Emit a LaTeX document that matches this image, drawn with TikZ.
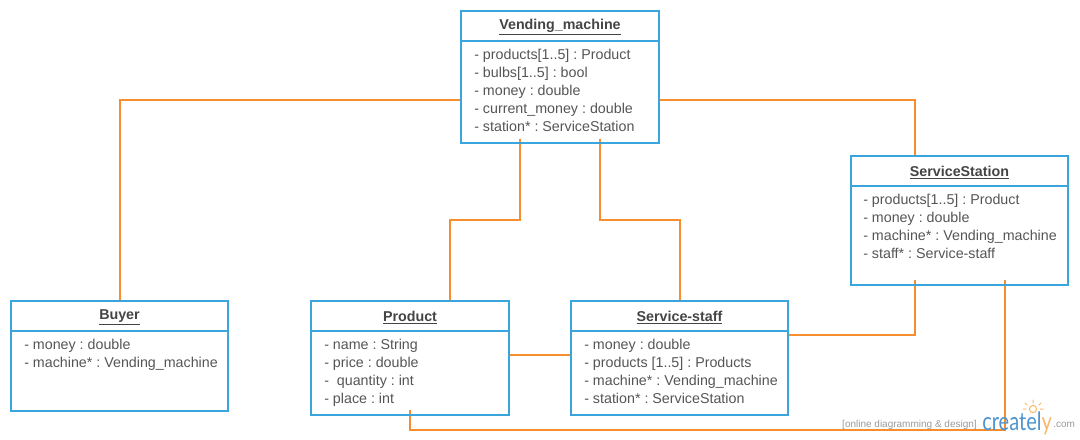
\documentclass[tikz,border=0pt]{standalone}
\usepackage{fontspec}
\setmainfont{Liberation Sans}
\newfontfamily\logofont[FakeStretch=0.79]{Lato}
\usetikzlibrary{calc}
\pgfdeclarelayer{back}
\pgfsetlayers{back,main}
\definecolor{boxblue}{HTML}{39A5DC}
\definecolor{linkorange}{HTML}{F68D2E}
\definecolor{inktitle}{HTML}{444444}
\definecolor{inkbody}{HTML}{555555}
\definecolor{markgray}{HTML}{999999}
\definecolor{logoblue}{HTML}{4F94CD}
\definecolor{logoorange}{HTML}{F9B868}
\tikzset{
  x=0.75pt,y=-0.75pt,
  umlbox/.style={draw=boxblue,line width=1.5pt,inner sep=0pt,outer sep=0pt},
  umlrule/.style={draw=boxblue,line width=1.5pt},
  umltitle/.style={inner sep=0pt,text=inktitle,font=\fontsize{10.7}{13.5}\selectfont\bfseries},
  umlattrs/.style={inner sep=0pt,anchor=north west,align=left,text=inkbody,font=\frenchspacing\fontsize{10.7}{13.5}\selectfont},
  link/.style={draw=linkorange,line width=1.5pt},
  markline/.style={draw=logoorange,line width=0.75pt,line cap=round},
}
\newcommand{\umlclass}[8]{% name, left, top, w, h, title, attrs, attrs left offset
  \node[umlbox,minimum width=#4*0.75pt,minimum height=#5*0.75pt,anchor=north west] (#1) at (#2,#3) {};
  \draw[umlrule] ($(#1.north west)+(0,30)$) -- ($(#1.north east)+(0,30)$);
  \node[umltitle] (#1title) at ($(#1.north)+(0,16.5)$) {\underline{#6}};
  \node[umlattrs] (#1attrs) at ($(#1.north west)+(#8,38)$) {#7};
}
\begin{document}
\begin{tikzpicture}
\useasboundingbox (0,0) rectangle (1080,439);
% classes
\umlclass{vm}{461}{11}{198}{132}{Vending\_machine}{- products[1..5] : Product\\- bulbs[1..5] : bool\\- money : double\\- current\_money : double\\- station* : ServiceStation}{13}
\umlclass{ss}{851}{156}{217}{129}{ServiceStation}{- products[1..5] : Product\\- money : double\\- machine* : Vending\_machine\\- staff* : Service-staff}{12}
\umlclass{buyer}{11}{301}{217}{110}{Buyer}{- money : double\\- machine* : Vending\_machine}{13}
\umlclass{prod}{311}{301}{198}{114}{Product}{- name : String\\- price : double\\-\ \ quantity : int\\- place : int}{13}
\umlclass{staff}{571}{301}{217}{114}{Service-staff}{- money : double\\- products [1..5] : Products\\- machine* : Vending\_machine\\- station* : ServiceStation}{13}
% links, under the box outlines
\begin{pgfonlayer}{back}
\draw[link] ($(vm.west)+(0,23)$) -| (buyer.north);
\draw[link] ($(vm.east)+(0,23)$) -| ($(ss.north)+(-44.5,0)$);
\draw[link] ($(vm.south)+(-40,-4)$) -- ++(0,81) -| ($(prod.north)+(40,0)$);
\draw[link] ($(vm.south)+(40,-4)$) -- ++(0,81) -| (staff.north);
\draw[link] ($(prod.east)+(0,-3)$) -- ($(staff.west)+(0,-3)$);
\draw[link] ($(staff.east)+(0,-23)$) -| ($(ss.south)+(-44.5,-5)$);
\draw[link] ($(ss.south)+(45.5,-5)$) -- ++(0,150) -| ($(prod.south)+(0,-5)$);
\end{pgfonlayer}
% watermark
\node[inner sep=0pt,anchor=base east,text=markgray,font=\fontsize{7.5}{9}\selectfont] (tag) at (977,427) {[online diagramming \& design]};
\node[inner sep=0pt,anchor=base west,font=\logofont\fontsize{19}{24}\selectfont,text=logoblue] (logo) at (982,430) {createl\textcolor{logoorange}{y}};
\node[inner sep=0pt,anchor=base west,text=markgray,font=\fontsize{7.5}{9}\selectfont] (dotcom) at (1053,427) {.com};
\draw[markline] (1033,409) circle (3.6);
\draw[markline] (1033,400)--(1033,403) (1025,403)--(1027,405) (1041,403)--(1039,405) (1023,409)--(1026,409) (1043,409)--(1040,409);
\end{tikzpicture}
\end{document}
